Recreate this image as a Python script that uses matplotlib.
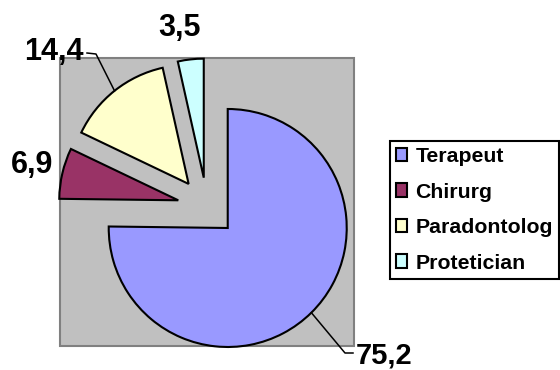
import numpy as np
import matplotlib
matplotlib.use("Agg")
import matplotlib.pyplot as plt
from matplotlib.patches import Rectangle

categories = ["Terapeut", "Chirurg", "Paradontolog", "Protetician"]
values = [75.2, 6.9, 14.4, 3.5]
value_labels = ["75,2", "6,9", "14,4", "3,5"]
colors = ["#9999FF", "#993366", "#FFFFCC", "#CCFFFF"]

W, H = 560, 370
fig = plt.figure(figsize=(W / 100, H / 100), dpi=100)
ax = fig.add_axes([0, 0, 1, 1])
plt.rcParams['font.family'] = ['Liberation Sans', 'DejaVu Sans']

def py(y):  # pixel y (from top) -> data y
    return H - y

# plot area background
ax.add_patch(Rectangle((60, py(346)), 294, 288, facecolor="#C0C0C0",
                       edgecolor="#808080", linewidth=1.5, zorder=0))

center = (207, py(207))
radius = 119
expl = 29.5
wedges, _ = ax.pie(values, colors=colors, startangle=90, counterclock=False,
                   center=center, radius=radius, explode=[expl] * len(values),
                   wedgeprops=dict(edgecolor="black", linewidth=1.5))
for w in wedges:
    w.set_zorder(2)

ax.set_xlim(0, W)
ax.set_ylim(0, H)
ax.set_aspect("equal")
ax.axis("off")

def arc_mid(w):
    th = np.deg2rad((w.theta1 + w.theta2) / 2)
    cx, cy = w.center
    return cx + w.r * np.cos(th), cy + w.r * np.sin(th)

lab_kw = dict(fontsize=22, fontweight="bold", color="black", va="center", zorder=5)
# Terapeut
x0, y0 = arc_mid(wedges[0])
ax.plot([x0, 345, 353], [y0, py(353), py(353)], color="black", lw=1.1, zorder=4)
ax.text(356, py(369.5), value_labels[0], ha="left",
        **{**lab_kw, "va": "bottom", "fontsize": 21})
# Chirurg
ax.text(32, py(165), value_labels[1], ha="center", **lab_kw)
# Paradontolog
x2, y2 = arc_mid(wedges[2])
ax.plot([x2, 96, 87], [y2, py(54), py(53)], color="black", lw=1.1, zorder=4)
ax.text(84, py(52), value_labels[2], ha="right", **lab_kw)
# Protetician
ax.text(180, py(28), value_labels[3], ha="center", **lab_kw)

leg = fig.legend(wedges, categories, loc="upper left",
                 bbox_to_anchor=(390 / W, py(141) / H), bbox_transform=fig.transFigure,
                 borderaxespad=0, frameon=True, fancybox=False, framealpha=1,
                 edgecolor="black", facecolor="white",
                 prop=dict(family="Liberation Sans", weight="bold", size=15.3),
                 handlelength=0.5, handleheight=0.6, handletextpad=0.42,
                 labelspacing=0.78, borderpad=0.28)
leg.get_frame().set_linewidth(1.5)
for h in leg.legend_handles:
    h.set_linewidth(1.5)

fig.savefig("out.png", dpi=100)
